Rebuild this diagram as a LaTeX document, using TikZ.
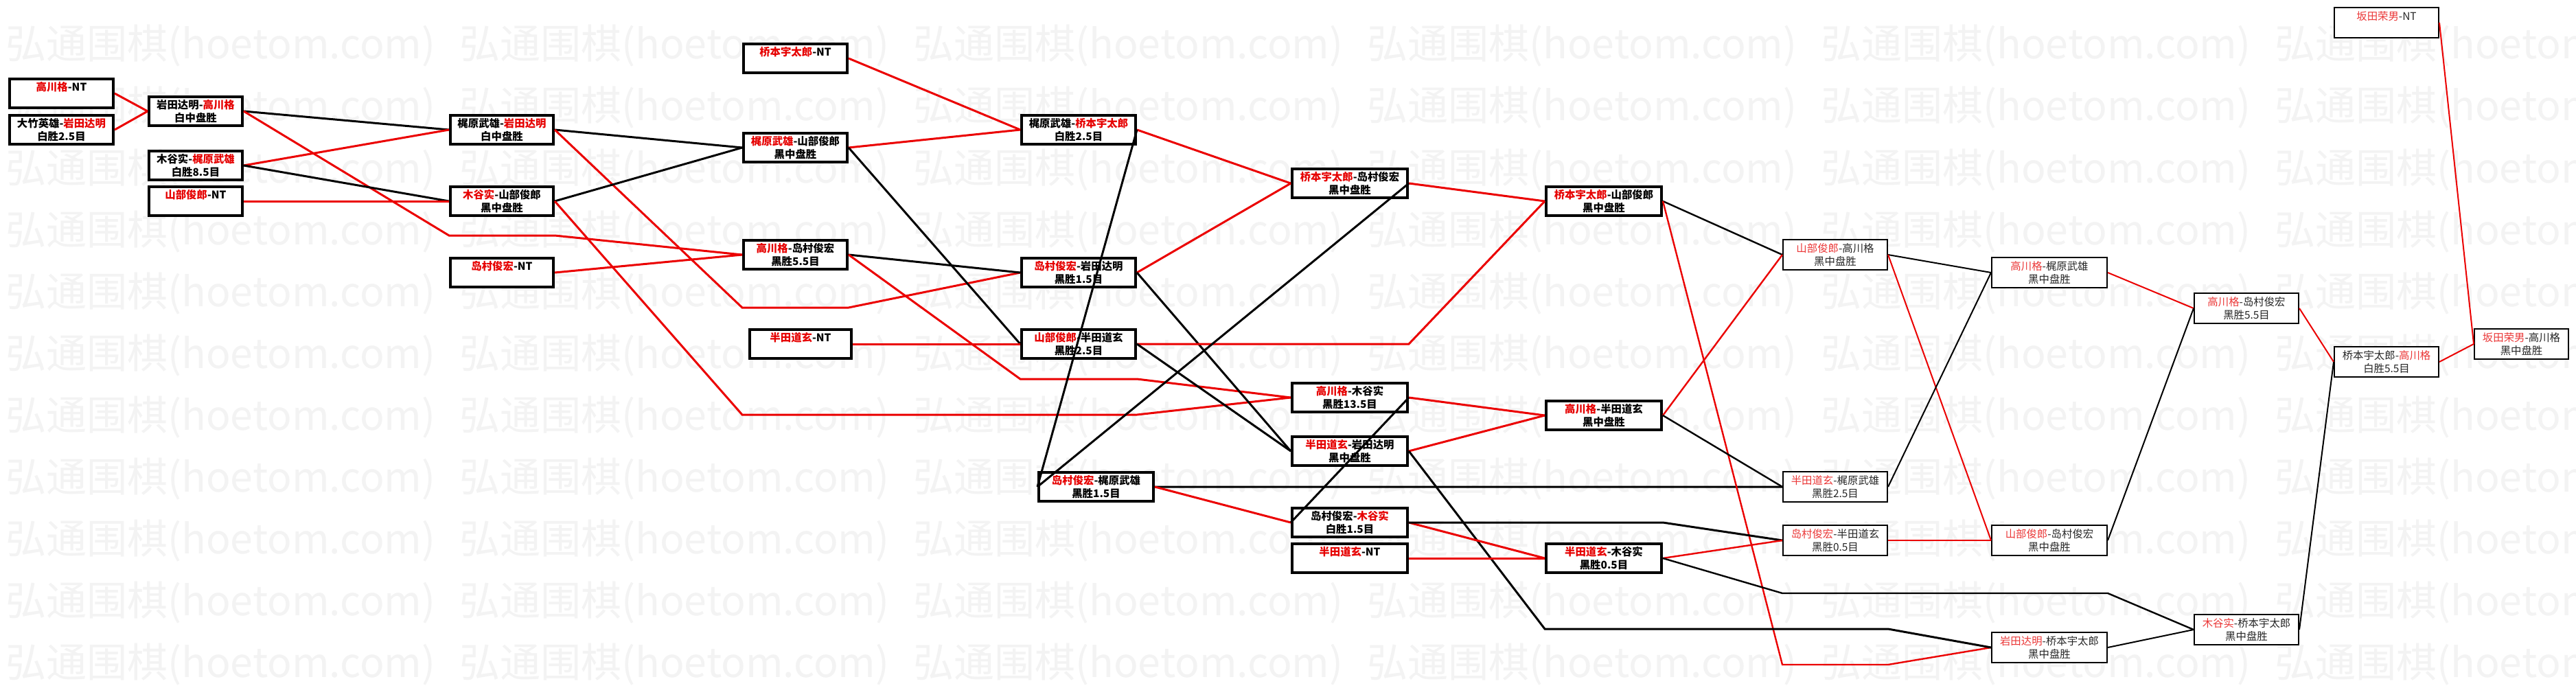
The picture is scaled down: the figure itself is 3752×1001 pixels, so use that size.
\documentclass[tikz,border=0pt]{standalone}
\usepackage{fontspec}
\newfontfamily\cjk{Noto Sans CJK SC}
\definecolor{lnred}{RGB}{235,0,0}
\definecolor{txred}{RGB}{230,0,0}
\definecolor{txredl}{RGB}{235,55,55}
\definecolor{wmgray}{RGB}{243,243,243}
\newcommand\Rd[1]{{\color{txred}#1}}
\newcommand\Rl[1]{{\color{txredl}#1}}
\tikzset{
  wm/.style={anchor=west, inner sep=0pt, text=wmgray, font=\cjk\fontsize{29.5pt}{29.5pt}\selectfont},
  tbox/.style={draw=black, line width=1.8pt, fill=white, anchor=north west, inner sep=0pt,
    minimum height=21.2pt, align=center, font=\cjk\bfseries\fontsize{7.7pt}{9.3pt}\selectfont},
  sbox/.style={draw=black, line width=1.1pt, fill=white, anchor=north west, inner sep=0pt,
    minimum height=21.9pt, align=center, text=black!85, font=\cjk\fontsize{7.7pt}{9.3pt}\selectfont},
  wd/.style={minimum width=#1},
  rk/.style={draw=lnred, line width=1.5pt},
  bk/.style={draw=black, line width=1.5pt},
  rm/.style={draw=lnred, line width=1.2pt},
  bm/.style={draw=black, line width=1.2pt},
  rt/.style={draw=lnred, line width=1pt},
  bt/.style={draw=black, line width=1pt}
}
\begin{document}
\begin{tikzpicture}[x=0.5pt,y=-0.5pt]
\useasboundingbox (0,0) rectangle (3752,1001);
\fill[white] (0,0) rectangle (3752,1001);
\begin{scope}
\clip (0,0) rectangle (3752,1001);
\foreach \r in {0,...,10}{
  \foreach \c in {0,...,5}{
    \node[wm] (wm-\r-\c) at ({8+661*\c},{67+90*\r}) {弘通围棋(hoetom.com)};
  }
}
\end{scope}
% column A
\node[tbox,wd=75.7pt] (n1) at (12,113) {\Rd{高川格}-NT\\\phantom{黑中盘胜}};
\node[tbox,wd=75.7pt] (n2) at (12,166) {大竹英雄-\Rd{岩田达明}\\白胜2.5目};
% column B
\node[tbox,wd=68.2pt] (n3) at (215,139) {岩田达明-\Rd{高川格}\\白中盘胜};
\node[tbox,wd=68.2pt] (n4) at (215,218) {木谷实-\Rd{梶原武雄}\\白胜8.5目};
\node[tbox,wd=68.2pt] (n5) at (215,270) {\Rd{山部俊郎}-NT\\\phantom{黑中盘胜}};
% column C
\node[tbox,wd=75.2pt] (n6) at (654,166) {梶原武雄-\Rd{岩田达明}\\白中盘胜};
\node[tbox,wd=75.2pt] (n7) at (654,270) {\Rd{木谷实}-山部俊郎\\黑中盘胜};
\node[tbox,wd=75.2pt] (n8) at (654,374) {\Rd{岛村俊宏}-NT\\\phantom{黑中盘胜}};
% column D
\node[tbox,wd=75.7pt] (n9) at (1081,62) {\Rd{桥本宇太郎}-NT\\\phantom{黑中盘胜}};
\node[tbox,wd=75.7pt] (n10) at (1081,192) {\Rd{梶原武雄}-山部俊郎\\黑中盘胜};
\node[tbox,wd=75.7pt] (n11) at (1081,348) {\Rd{高川格}-岛村俊宏\\黑胜5.5目};
\node[tbox,wd=74.2pt] (n12) at (1090,478) {\Rd{半田道玄}-NT\\\phantom{黑中盘胜}};
% column E
\node[tbox,wd=83.2pt] (n13) at (1486,166) {梶原武雄-\Rd{桥本宇太郎}\\白胜2.5目};
\node[tbox,wd=83.2pt] (n14) at (1486,374) {\Rd{岛村俊宏}-岩田达明\\黑胜1.5目};
\node[tbox,wd=83.2pt] (n15) at (1486,478) {\Rd{山部俊郎}-半田道玄\\黑胜2.5目};
\node[tbox,wd=83.7pt] (n16) at (1511,686) {\Rd{岛村俊宏}-梶原武雄\\黑胜1.5目};
% column F
\node[tbox,wd=84.2pt] (n17) at (1880,244) {\Rd{桥本宇太郎}-岛村俊宏\\黑中盘胜};
\node[tbox,wd=84.2pt] (n19) at (1880,556) {\Rd{高川格}-木谷实\\黑胜13.5目};
\node[tbox,wd=84.2pt] (n20) at (1880,634) {\Rd{半田道玄}-岩田达明\\黑中盘胜};
\node[tbox,wd=84.2pt] (n21) at (1880,738) {岛村俊宏-\Rd{木谷实}\\白胜1.5目};
\node[tbox,wd=84.2pt] (n22) at (1880,790) {\Rd{半田道玄}-NT\\\phantom{黑中盘胜}};
% column G
\node[tbox,wd=84.2pt] (n18) at (2250,270) {\Rd{桥本宇太郎}-山部俊郎\\黑中盘胜};
\node[tbox,wd=84.2pt] (n23) at (2250,582) {\Rd{高川格}-半田道玄\\黑中盘胜};
\node[tbox,wd=84.2pt] (n24) at (2250,790) {\Rd{半田道玄}-木谷实\\黑胜0.5目};
% column H
\node[sbox,wd=75.9pt] (n25) at (2596,348) {\Rl{山部俊郎}-高川格\\黑中盘胜};
\node[sbox,wd=75.9pt] (n27) at (2596,686) {\Rl{半田道玄}-梶原武雄\\黑胜2.5目};
\node[sbox,wd=75.9pt] (n28) at (2596,764) {\Rl{岛村俊宏}-半田道玄\\黑胜0.5目};
% column I
\node[sbox,wd=83.9pt] (n26) at (2900,374) {\Rl{高川格}-梶原武雄\\黑中盘胜};
\node[sbox,wd=83.9pt] (n29) at (2900,764) {\Rl{山部俊郎}-岛村俊宏\\黑中盘胜};
\node[sbox,wd=83.9pt] (n30) at (2900,920) {\Rl{岩田达明}-桥本宇太郎\\黑中盘胜};
% column J
\node[sbox,wd=75.9pt] (n32) at (3195,426) {\Rl{高川格}-岛村俊宏\\黑胜5.5目};
\node[sbox,wd=75.9pt] (n35) at (3195,894) {\Rl{木谷实}-桥本宇太郎\\黑中盘胜};
% column K
\node[sbox,wd=75.9pt] (n31) at (3399,10) {\Rl{坂田荣男}-NT\\\phantom{黑中盘胜}};
\node[sbox,wd=75.9pt] (n34) at (3399,504) {桥本宇太郎-\Rl{高川格}\\白胜5.5目};
% column L
\node[sbox,wd=68.4pt] (n33) at (3603,478) {\Rl{坂田荣男}-高川格\\黑中盘胜};
% bend points
\coordinate (b4a) at (654,343); \coordinate (b4b) at (808,343);
\coordinate (b9a) at (1081,448); \coordinate (b9b) at (1236,448);
\coordinate (b11a) at (1081,604); \coordinate (b11b) at (1656,604);
\coordinate (b17a) at (1486,552); \coordinate (b17b) at (1656,552);
\coordinate (b23a) at (2052,501);
\coordinate (b30a) at (2596,968); \coordinate (b30b) at (2750,968);
\coordinate (b34a) at (2250,916); \coordinate (b34b) at (2750,916);
\coordinate (b36a) at (2422,761);
\coordinate (b41a) at (2596,864); \coordinate (b41b) at (3070,864);
% connectors
\draw[rk] (n1.east) -- (n3.west);
\draw[rk] (n2.east) -- (n3.west);
\draw[bk] (n3.east) -- (n6.west);
\draw[rk] (n3.east) -- (b4a) -- (b4b) -- (n11.west);
\draw[rk] (n4.east) -- (n6.west);
\draw[bk] (n4.east) -- (n7.west);
\draw[rk] (n5.east) -- (n7.west);
\draw[bk] (n6.east) -- (n10.west);
\draw[rk] (n6.east) -- (b9a) -- (b9b) -- (n14.west);
\draw[bk] (n7.east) -- (n10.west);
\draw[rk] (n7.east) -- (b11a) -- (b11b) -- (n19.west);
\draw[rk] (n8.east) -- (n11.west);
\draw[rk] (n9.east) -- (n13.west);
\draw[rk] (n10.east) -- (n13.west);
\draw[bk] (n10.east) -- (n15.west);
\draw[bk] (n11.east) -- (n14.west);
\draw[rk] (n11.east) -- (b17a) -- (b17b) -- (n19.west);
\draw[rk] (n12.east) -- (n15.west);
\draw[rk] (n13.east) -- (n17.west);
\draw[bk] (n13.east) -- (n16.west);
\draw[rk] (n14.east) -- (n17.west);
\draw[bk] (n14.east) -- (n20.west);
\draw[rk] (n15.east) -- (b23a) -- (n18.west);
\draw[bk] (n15.east) -- (n20.west);
\draw[bk] (n16.east) -- (n27.west);
\draw[rk] (n16.east) -- (n21.west);
\draw[rk] (n17.east) -- (n18.west);
\draw[bk] (n17.east) -- (n16.west);
\draw[bm] (n18.east) -- (n25.west);
\draw[rm] (n18.east) -- (b30a) -- (b30b) -- (n30.west);
\draw[rk] (n19.east) -- (n23.west);
\draw[bk] (n19.east) -- (n21.west);
\draw[rk] (n20.east) -- (n23.west);
\draw[bk] (n20.east) -- (b34a) -- (b34b) -- (n30.west);
\draw[rk] (n21.east) -- (n24.west);
\draw[bk] (n21.east) -- (b36a) -- (n28.west);
\draw[rk] (n22.east) -- (n24.west);
\draw[rm] (n23.east) -- (n25.west);
\draw[bm] (n23.east) -- (n27.west);
\draw[rm] (n24.east) -- (n28.west);
\draw[bm] (n24.east) -- (b41a) -- (b41b) -- (n35.west);
\draw[bt] (n25.east) -- (n26.west);
\draw[rt] (n25.east) -- (n29.west);
\draw[rt] (n26.east) -- (n32.west);
\draw[bt] (n27.east) -- (n26.west);
\draw[rt] (n28.east) -- (n29.west);
\draw[bt] (n29.east) -- (n32.west);
\draw[bt] (n30.east) -- (n35.west);
\draw[rt] (n32.east) -- (n34.west);
\draw[bt] (n35.east) -- (n34.west);
\draw[rt] (n34.east) -- (n33.west);
\draw[rt] (n31.east) -- (n33.west);
\end{tikzpicture}
\end{document}
